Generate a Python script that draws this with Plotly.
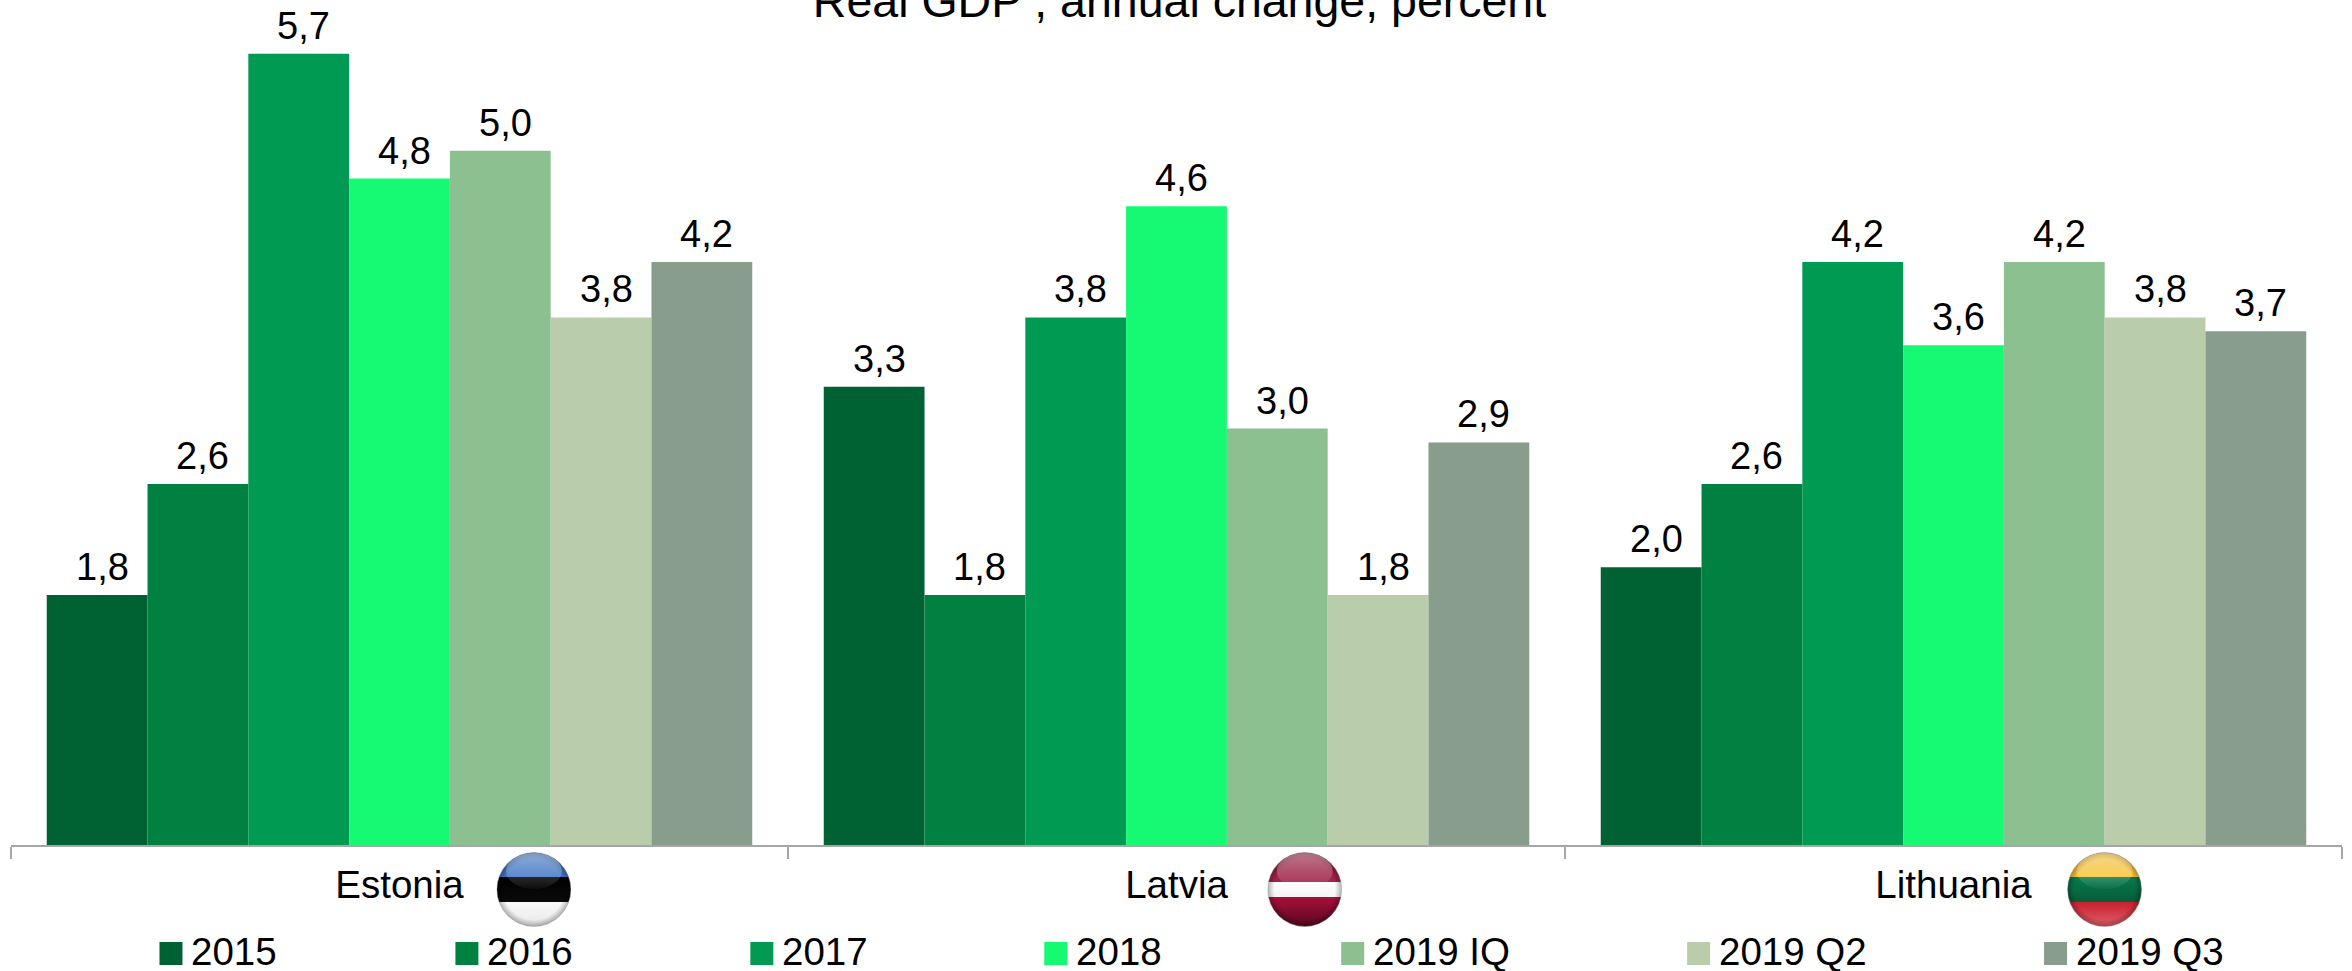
import base64
import plotly.graph_objects as go

countries = ["Estonia", "Latvia", "Lithuania"]
series_names = ["2015", "2016", "2017", "2018", "2019 IQ", "2019 Q2", "2019 Q3"]
v2015 = [1.8, 3.3, 2.0]
v2016 = [2.6, 1.8, 2.6]
v2017 = [5.7, 3.8, 4.2]
v2018 = [4.8, 4.6, 3.6]
v2019q1 = [5.0, 3.0, 4.2]
v2019q2 = [3.8, 1.8, 3.8]
v2019q3 = [4.2, 2.9, 3.7]
series_values = [v2015, v2016, v2017, v2018, v2019q1, v2019q2, v2019q3]
colors = ["#006233", "#008041", "#009A52", "#16FA73", "#8DC090", "#B9CDAB", "#889D8B"]
title_text = "Real GDP , annual change, percent"

W, H = 2352, 971
L, R, T, B = 10.5, 2342, 12, 845
FONT = "Liberation Sans, Arial, sans-serif"
FS = 38.5
LABEL_FS = 38
BARGAP = 0.092
legend_swatch_left = [159, 455, 750, 1044, 1341, 1687, 2044]


def fx(px):
    return (px - L) / (R - L)


def fy(py):
    return (B - py) / (B - T)


def flag_svg(idx, stripes):
    rects = "".join(
        f'<rect x="0" y="{y}" width="75" height="{h}" fill="url(#s{i}{idx})"/>'
        for i, (y, h, _, _) in enumerate(stripes)
    )
    defs = "".join(
        f'<linearGradient id="s{i}{idx}" x1="0" y1="0" x2="0" y2="1"><stop offset="0" stop-color="{a}"/>'
        f'<stop offset="1" stop-color="{b}"/></linearGradient>'
        for i, (_, _, a, b) in enumerate(stripes)
    )
    svg = f'''<svg xmlns="http://www.w3.org/2000/svg" width="75" height="75" viewBox="0 0 75 75">
<defs>{defs}
<clipPath id="c{idx}"><circle cx="37.5" cy="37.5" r="37"/></clipPath>
<linearGradient id="g{idx}" x1="0" y1="0" x2="0" y2="1"><stop offset="0" stop-color="#fff" stop-opacity=".42"/>
<stop offset="1" stop-color="#fff" stop-opacity=".03"/></linearGradient>
<radialGradient id="e{idx}" cx=".5" cy=".5" r=".5"><stop offset=".82" stop-color="#000" stop-opacity="0"/>
<stop offset="1" stop-color="#000" stop-opacity=".28"/></radialGradient></defs>
<g clip-path="url(#c{idx})">{rects}
<circle cx="37.5" cy="37.5" r="37" fill="url(#e{idx})"/>
<ellipse cx="37.5" cy="19" rx="28" ry="18" fill="url(#g{idx})"/></g>
<circle cx="37.5" cy="37.5" r="37" fill="none" stroke="#8a8a8a" stroke-opacity=".45" stroke-width="1"/>
</svg>'''
    return "data:image/svg+xml;base64," + base64.b64encode(svg.encode()).decode()


flags = [
    (496, flag_svg(0, [(0, 25, "#3A6DBE", "#3F74C4"), (25, 25, "#000000", "#0A0A0A"), (50, 25, "#FAFAFA", "#E6E6E6")])),
    (1267, flag_svg(1, [(0, 30, "#8E1537", "#A3244A"), (30, 15, "#FFFFFF", "#F4F4F4"), (45, 30, "#A80F3A", "#560720")])),
    (2067, flag_svg(2, [(0, 25, "#F2B92B", "#F7C437"), (25, 25, "#087A4C", "#065C38"), (50, 25, "#C9202F", "#E0606A")])),
]

fig = go.Figure()
shapes, annotations = [], []
n = len(series_names)
bw = (1 - BARGAP) / n
for j, (name, vals, col) in enumerate(zip(series_names, series_values, colors)):
    fig.add_trace(go.Bar(
        name=name, x=countries, y=vals, marker=dict(color=col, line=dict(width=0)),
        showlegend=False,
    ))
    for i, v in enumerate(vals):
        annotations.append(dict(xref="x", yref="y", x=i + (j - (n - 1) / 2) * bw, y=v, xanchor="center",
                                yanchor="bottom", yshift=6, xshift=5, showarrow=False, borderpad=0,
                                text=f"{v:.1f}".replace(".", ","),
                                font=dict(family=FONT, size=LABEL_FS, color="#000")))

for left, name, col in zip(legend_swatch_left, series_names, colors):
    shapes.append(dict(type="rect", xref="paper", yref="paper", layer="above",
                       x0=fx(left), x1=fx(left + 23), y0=fy(965), y1=fy(942),
                       fillcolor=col, line=dict(width=0)))
    annotations.append(dict(xref="paper", yref="paper", x=fx(left + 31), y=fy(951),
                            xanchor="left", yanchor="middle", text=name, showarrow=False,
                            borderpad=0, font=dict(family=FONT, size=FS, color="#000")))

images = [dict(source=src, xref="paper", yref="paper", x=fx(left), y=fy(852), sizex=75 / (R - L),
               sizey=75 / (B - T), xanchor="left", yanchor="top", sizing="stretch", layer="above")
          for left, src in flags]

fig.update_layout(
    width=W, height=H, autosize=False,
    margin=dict(l=L, r=W - R, t=T, b=H - B, pad=0),
    paper_bgcolor="#fff", plot_bgcolor="#fff",
    barmode="group", bargap=BARGAP, bargroupgap=0,
    title=dict(text=title_text, x=1179.5 / W, xanchor="center", xref="container", y=1 - 17 / H,
               yanchor="bottom", yref="container", font=dict(family=FONT, size=46.5, color="#000")),
    xaxis=dict(type="category", tickson="boundaries", ticks="outside", ticklen=12, tickwidth=1.5,
               tickcolor="#a6a6a6", showline=True, linecolor="#a6a6a6", linewidth=1.5,
               showgrid=False, zeroline=False, ticklabelstandoff=5,
               tickfont=dict(family=FONT, size=FS, color="#000")),
    yaxis=dict(range=[0, 6], visible=False, showgrid=False, zeroline=False),
    shapes=shapes, annotations=annotations, images=images,
    font=dict(family=FONT),
)
fig.write_html("out.html", config=dict(displayModeBar=False),
               post_script="document.body.style.margin='0';document.documentElement.style.overflow='hidden';")
